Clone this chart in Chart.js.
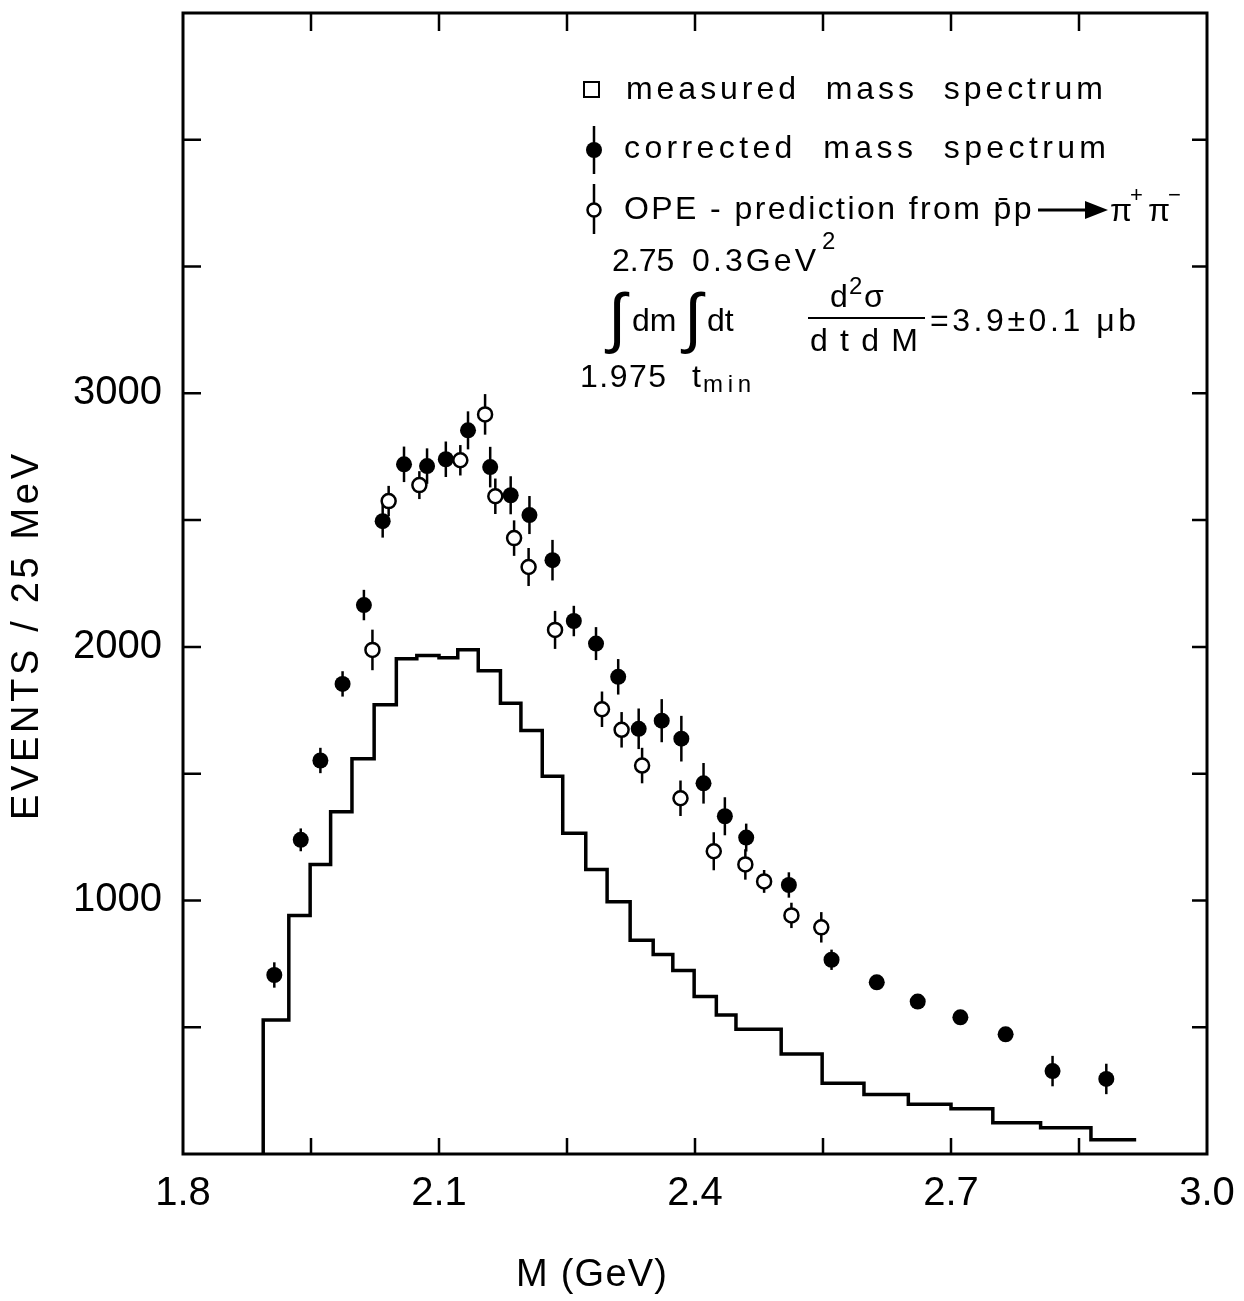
<!DOCTYPE html>
<html>
<head>
<meta charset="utf-8">
<script src="https://cdn.jsdelivr.net/npm/chart.js@4.4.0/dist/chart.umd.min.js"></script>
<style>
  html, body { margin: 0; padding: 0; background: #fff; }
</style>
</head>
<body>
<canvas id="massChart" width="1244" height="1301"></canvas>
<script>
// measured mass spectrum (histogram): bin edges in GeV and events per bin
const histEdges = [1.894, 1.924, 1.949, 1.973, 1.998, 2.024, 2.050, 2.074, 2.100, 2.122, 2.146,
  2.172, 2.196, 2.221, 2.245, 2.272, 2.297, 2.324, 2.351, 2.374, 2.399, 2.425, 2.448, 2.501,
  2.549, 2.598, 2.650, 2.700, 2.749, 2.805, 2.864, 2.917];
const histCounts = [528, 941, 1142, 1350, 1559, 1772, 1953, 1966, 1957, 1989, 1906,
  1778, 1670, 1490, 1265, 1122, 995, 843, 787, 724, 621, 548, 492, 394,
  279, 235, 196, 178, 123, 104, 56];

// corrected mass spectrum (filled circles)
const corrMass = [1.907, 1.938, 1.961, 1.987, 2.012, 2.034, 2.059, 2.086, 2.108, 2.134, 2.160,
  2.184, 2.206, 2.233, 2.258, 2.284, 2.310, 2.334, 2.361, 2.384, 2.410, 2.435, 2.460,
  2.510, 2.560, 2.613, 2.661, 2.711, 2.764, 2.819, 2.882];
const corrEvents = [706, 1239, 1552, 1854, 2165, 2496, 2720, 2713, 2740, 2854, 2709,
  2598, 2520, 2342, 2102, 2013, 1882, 1677, 1709, 1638, 1462, 1332, 1248,
  1061, 766, 677, 601, 539, 472, 327, 296];
const corrErr = [50, 45, 50, 50, 60, 65, 70, 70, 70, 75, 80,
  75, 75, 80, 60, 65, 70, 80, 85, 90, 80, 75, 55,
  50, 40, 20, 20, 20, 20, 60, 60];

// OPE prediction (open circles)
const opeMass = [2.022, 2.041, 2.077, 2.125, 2.154, 2.166, 2.188, 2.205, 2.236,
  2.291, 2.314, 2.338, 2.383, 2.422, 2.459, 2.481, 2.513, 2.548];
const opeEvents = [1988, 2575, 2638, 2736, 2917, 2594, 2429, 2315, 2067,
  1754, 1673, 1532, 1403, 1194, 1142, 1075, 941, 894];
const opeErr = [80, 60, 55, 60, 80, 70, 70, 75, 75,
  70, 70, 70, 70, 75, 60, 45, 50, 60];

const xTickLabels = [1.8, 2.1, 2.4, 2.7, 3.0];
const yTickLabels = [1000, 2000, 3000];

const FONT = "'Liberation Sans', 'DejaVu Sans', Arial, sans-serif";
Chart.defaults.font.family = FONT;
Chart.defaults.color = "#000";

const histPoints = [{ x: histEdges[0], y: 0 }];
histCounts.forEach((c, i) => histPoints.push({ x: histEdges[i], y: c }));
histPoints.push({ x: histEdges[histEdges.length - 1], y: histCounts[histCounts.length - 1] });

const toPoints = (xs, ys) => xs.map((x, i) => ({ x: x, y: ys[i] }));

// stretch text over a given width with letter spacing
function fitText(ctx, text, x, y, width) {
  ctx.letterSpacing = "0px";
  const w = ctx.measureText(text).width;
  const n = [...text].length;
  ctx.letterSpacing = (n > 1 ? (width - w) / (n - 1) : 0) + "px";
  ctx.fillText(text, x, y);
  ctx.letterSpacing = "0px";
}

const errorBars = {
  id: "errorBars",
  beforeDatasetsDraw(chart) {
    const { ctx, scales } = chart;
    ctx.save();
    ctx.strokeStyle = "#000";
    ctx.lineWidth = 2.5;
    chart.data.datasets.forEach(ds => {
      if (!ds.errors) return;
      ds.data.forEach((p, i) => {
        const px = scales.x.getPixelForValue(p.x);
        ctx.beginPath();
        ctx.moveTo(px, scales.y.getPixelForValue(p.y + ds.errors[i]));
        ctx.lineTo(px, scales.y.getPixelForValue(p.y - ds.errors[i]));
        ctx.stroke();
      });
    });
    ctx.restore();
  }
};

const frameAndText = {
  id: "frameAndText",
  afterDraw(chart) {
    const { ctx, chartArea: a, scales } = chart;
    ctx.save();
    ctx.strokeStyle = "#000";
    ctx.fillStyle = "#000";

    // frame
    ctx.lineWidth = 3;
    ctx.strokeRect(a.left, a.top, a.right - a.left, a.bottom - a.top);

    // inward tick marks
    ctx.lineWidth = 2.5;
    scales.x.ticks.forEach(t => {
      if (t.value <= scales.x.min + 1e-6 || t.value >= scales.x.max - 1e-6) return;
      const px = scales.x.getPixelForValue(t.value);
      ctx.beginPath();
      ctx.moveTo(px, a.bottom); ctx.lineTo(px, a.bottom - 16);
      ctx.moveTo(px, a.top); ctx.lineTo(px, a.top + 18);
      ctx.stroke();
    });
    scales.y.ticks.forEach(t => {
      if (t.value <= scales.y.min || t.value >= scales.y.max) return;
      const py = scales.y.getPixelForValue(t.value);
      ctx.beginPath();
      ctx.moveTo(a.left, py); ctx.lineTo(a.left + 18, py);
      ctx.moveTo(a.right, py); ctx.lineTo(a.right - 15, py);
      ctx.stroke();
    });

    // axis titles
    ctx.textBaseline = "middle";
    ctx.textAlign = "left";
    ctx.font = "38px " + FONT;
    fitText(ctx, "M (GeV)", 516, 1276, 151);
    ctx.save();
    ctx.translate(28, 636);
    ctx.rotate(-Math.PI / 2);
    fitText(ctx, "EVENTS / 25 MeV", -184, 0, 366);
    ctx.restore();

    // legend
    ctx.font = "32px " + FONT;
    ctx.lineWidth = 2;
    ctx.strokeRect(584, 82, 15, 15);
    fitText(ctx, "measured  mass  spectrum", 626, 90, 477);
    fitText(ctx, "corrected  mass  spectrum", 624, 149, 482);
    fitText(ctx, "OPE - prediction from p\u0304p", 624, 210, 410);

    ctx.lineWidth = 2.5;
    ctx.beginPath();
    ctx.moveTo(594, 126); ctx.lineTo(594, 174);
    ctx.moveTo(594, 184); ctx.lineTo(594, 234);
    ctx.stroke();
    ctx.beginPath();
    ctx.arc(594, 150, 8, 0, Math.PI * 2);
    ctx.fill();
    ctx.beginPath();
    ctx.arc(594, 210, 6.5, 0, Math.PI * 2);
    ctx.fillStyle = "#fff";
    ctx.fill();
    ctx.stroke();
    ctx.fillStyle = "#000";

    // arrow p̄p -> π+π-
    ctx.lineWidth = 3;
    ctx.beginPath();
    ctx.moveTo(1038, 210); ctx.lineTo(1090, 210);
    ctx.stroke();
    ctx.beginPath();
    ctx.moveTo(1085, 201); ctx.lineTo(1108, 210); ctx.lineTo(1085, 219);
    ctx.closePath();
    ctx.fill();
    ctx.fillText("\u03c0", 1110, 212);
    ctx.fillText("\u03c0", 1148, 212);
    ctx.font = "22px " + FONT;
    ctx.fillText("+", 1130, 196);
    ctx.fillText("\u2212", 1168, 196);

    // integral annotation
    ctx.font = "32px " + FONT;
    ctx.fillText("2.75", 612, 262);
    fitText(ctx, "0.3GeV", 692, 262, 124);
    fitText(ctx, "1.975", 580, 378, 86);
    ctx.fillText("t", 692, 378);
    ctx.fillText("dm", 632, 322);
    ctx.fillText("dt", 707, 322);
    ctx.fillText("d", 830, 298);
    ctx.fillText("\u03c3", 864, 298);
    fitText(ctx, "dtdM", 810, 342, 108);
    fitText(ctx, "=3.9\u00b10.1 \u03bcb", 930, 322, 206);
    ctx.font = "24px " + FONT;
    ctx.fillText("2", 822, 242);
    ctx.fillText("2", 849, 287);
    fitText(ctx, "min", 703, 385, 48);
    ctx.font = "66px " + FONT;
    ctx.fillText("\u222b", 608, 322);
    ctx.fillText("\u222b", 684, 322);

    ctx.lineWidth = 2;
    ctx.beginPath();
    ctx.moveTo(808, 318); ctx.lineTo(925, 318);
    ctx.stroke();

    ctx.restore();
  }
};

new Chart(document.getElementById("massChart"), {
  type: "scatter",
  data: {
    datasets: [
      {
        type: "line",
        label: "measured mass spectrum",
        data: histPoints,
        stepped: true,
        borderColor: "#000",
        borderWidth: 3.5,
        pointRadius: 0,
        fill: false
      },
      {
        label: "corrected mass spectrum",
        data: toPoints(corrMass, corrEvents),
        errors: corrErr,
        pointRadius: 8,
        backgroundColor: "#000",
        borderColor: "#000",
        borderWidth: 0
      },
      {
        label: "OPE prediction",
        data: toPoints(opeMass, opeEvents),
        errors: opeErr,
        pointRadius: 7,
        backgroundColor: "#fff",
        borderColor: "#000",
        borderWidth: 2.5
      }
    ]
  },
  options: {
    responsive: false,
    animation: false,
    devicePixelRatio: 1,
    layout: { padding: { top: 13, right: 37, left: 0, bottom: 0 } },
    plugins: { legend: { display: false }, tooltip: { enabled: false } },
    scales: {
      x: {
        type: "linear",
        min: 1.8,
        max: 3.0,
        grid: { display: false },
        border: { display: false },
        afterFit: s => { s.height = 147; },
        ticks: {
          stepSize: 0.15,
          autoSkip: false,
          maxRotation: 0,
          padding: 8,
          font: { size: 40 },
          callback: v => xTickLabels.some(t => Math.abs(t - v) < 1e-6) ? Number(v).toFixed(1) : ""
        }
      },
      y: {
        min: 0,
        max: 4500,
        grid: { display: false },
        border: { display: false },
        afterFit: s => { s.width = 183; s.paddingTop = 0; s.paddingBottom = 0; },
        ticks: {
          stepSize: 500,
          padding: 13,
          font: { size: 40 },
          callback: v => yTickLabels.includes(v) ? String(v) : ""
        }
      }
    }
  },
  plugins: [errorBars, frameAndText]
});
</script>
</body>
</html>
